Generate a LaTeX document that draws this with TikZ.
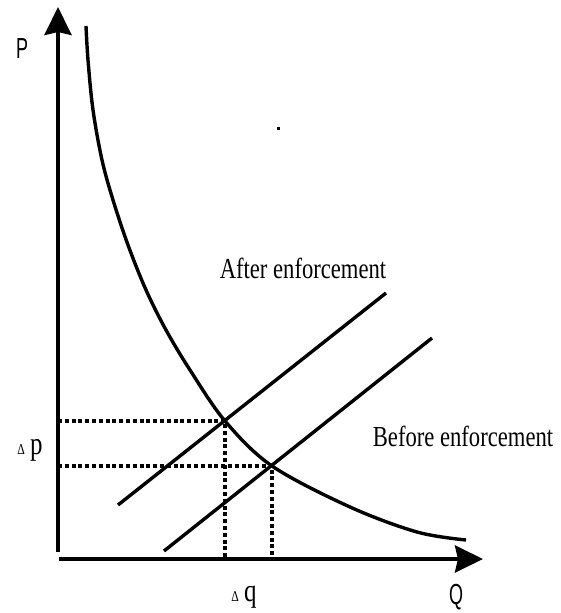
\documentclass[tikz,border=0pt]{standalone}
\usepackage{fontspec}
\setmainfont{Liberation Serif}
\newfontfamily\labelfont[FakeStretch=0.78]{Liberation Serif}
\newfontfamily\axisfont[FakeStretch=0.62]{Liberation Sans}
\usetikzlibrary{arrows.meta,positioning}

\begin{document}
\begin{tikzpicture}[x=1pt, y=-1pt,
  axis/.style={line width=4pt, -{Stealth[length=28pt,width=27pt,inset=3pt]}},
  curve/.style={line width=3.4pt},
  guide/.style={line width=4pt, dash pattern=on 4pt off 2.8pt},
  tag/.style={inner sep=0pt, font=\labelfont\fontsize{29}{29}\selectfont},
  axlab/.style={inner sep=0pt, font=\axisfont\fontsize{29}{29}\selectfont},
  dlab/.style={inner sep=0pt, font=\labelfont\fontsize{32}{32}\selectfont}]
  \useasboundingbox (0,0) rectangle (561,613);
  % axes
  \coordinate (O) at (58,559);
  \coordinate (ybot) at (58,552);
  \coordinate (ytop) at (58,7);
  \coordinate (xbeg) at (59,559);
  \coordinate (xend) at (483,559);
  \draw[axis] (ybot) -- (ytop);
  \draw[axis] (xbeg) -- (xend);
  \node[axlab] (P) at (22,49) {P};
  \node[axlab] (Q) at (456,597) {Q};
  % supply lines
  \coordinate (a1) at (118,505);
  \coordinate (a2) at (386,293);
  \coordinate (b1) at (164,551);
  \coordinate (b2) at (432,338);
  \draw[curve] (a1) -- (a2);
  \draw[curve] (b1) -- (b2);
  % equilibria
  \coordinate (e1) at (225,421);
  \coordinate (e0) at (272,466);
  % demand
  \draw[curve] plot[smooth, tension=0.55] coordinates
    {(86,26) (88,60) (93,110) (102,160) (113,200) (128,245) (146,290)
     (166,330) (190,370) (225,421) (272,466) (350,507) (417,532) (466,540)};
  \draw[guide] (O |- e1) -- (e1) -- (e1 |- O);
  \draw[guide] (O |- e0) -- (e0) -- (e0 |- O);
  \node[tag] (after) at (303,268) {After enforcement};
  \node[tag] (before) at (463,436) {Before enforcement};
  \node[dlab] (dp) at (30,450) {{\fontsize{15}{15}\selectfont Δ}\,p};
  \node[dlab] (dq) at (244,597) {{\fontsize{15}{15}\selectfont Δ}\,q};
  \fill (277,127) rectangle +(3,3);
\end{tikzpicture}
\end{document}
